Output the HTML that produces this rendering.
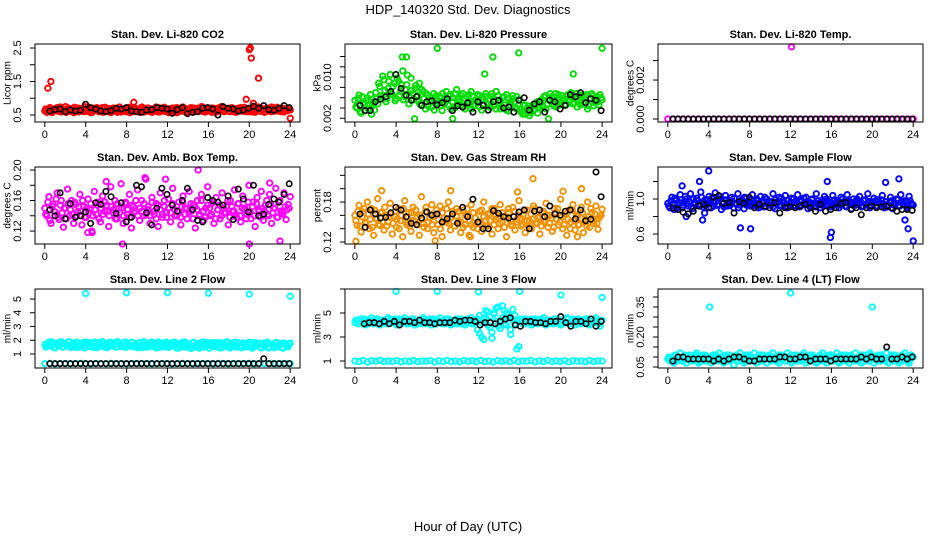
<!DOCTYPE html>
<html><head><meta charset="utf-8"><style>
html,body{margin:0;padding:0;background:#fff;}
svg{display:block;font-family:"Liberation Sans",sans-serif;}
</style></head><body>
<svg id="chart" width="936" height="540" viewBox="0 0 936 540">
<text x="468" y="14" text-anchor="middle" font-size="13">HDP_140320  Std. Dev. Diagnostics</text>
<text x="468" y="531" text-anchor="middle" font-size="13">Hour of Day (UTC)</text>
</svg>
<script>
const xTicks=[0,4,8,12,16,20,24];
// Panel 1 CO2
const co2Color=[0.62,0.58,0.66,0.7,0.6,0.64,0.72,0.68,0.59,0.63,0.75,0.66,0.61,0.69,0.57,0.65,0.71,0.62,0.68,0.6,0.66,0.74,0.63,0.58,0.7,0.65,0.61,0.67,0.72,0.6,0.64,0.69,0.57,0.66,0.62,0.7,0.63,0.59,0.68,0.65,0.61,0.73,0.66,0.6,0.69,0.64,0.58,0.67,0.71,0.62,0.65,0.6,0.68,0.63,0.74,0.59,0.66,0.7,0.61,0.64,0.57,0.69,0.65,0.62,0.72,0.6,0.67,0.63,0.7,0.58,0.66,0.64,0.71,0.61,0.68,0.62,0.75,0.6,0.65,0.69,0.63,0.58,0.7,0.66,0.61,0.73,0.64,0.6,0.67,0.62,0.7,0.65,0.59,0.68,0.63,0.72,0.61,0.66,0.69,0.6,0.64,0.71,0.58,0.67,0.62,0.7,0.65,0.6,0.68,0.63,0.74,0.61,0.66,0.62,0.7,0.64,0.59,0.67,0.63,0.65];
const co2Color2=[0.68,0.6,0.72,0.57,0.65,0.7,0.61,0.74,0.63,0.67,0.58,0.71,0.64,0.6,0.73,0.66,0.59,0.69,0.62,0.75,0.61,0.67,0.57,0.7,0.64,0.72,0.6,0.66,0.58,0.73,0.63,0.68,0.6,0.71,0.65,0.58,0.74,0.62,0.67,0.6,0.7,0.57,0.65,0.72,0.61,0.68,0.63,0.74,0.59,0.66,0.71,0.62,0.58,0.69,0.64,0.72,0.6,0.67,0.73,0.62,0.68,0.59,0.71,0.64,0.57,0.7,0.62,0.74,0.6,0.67,0.63,0.72,0.58,0.66,0.7,0.61,0.64,0.73,0.59,0.68,0.62,0.71,0.65,0.58,0.7,0.63,0.75,0.61,0.66,0.69,0.6,0.72,0.64,0.58,0.7,0.62,0.67,0.73,0.6,0.65,0.7,0.59,0.68,0.63,0.74,0.61,0.66,0.58,0.71,0.64,0.6,0.69,0.62,0.73,0.65,0.6,0.7,0.63,0.68,0.66];
const co2OutX=[0.3,0.6,8.7,19.7,20,20.1,20.2,20.4,20.9,24];
const co2OutY=[1.3,1.5,0.88,0.97,2.45,2.5,2.2,0.85,1.6,0.4];
const co2Black=[0.62,0.66,0.68,0.6,0.65,0.62,0.64,0.82,0.72,0.68,0.62,0.6,0.63,0.7,0.68,0.72,0.62,0.6,0.58,0.65,0.66,0.72,0.7,0.68,0.55,0.66,0.72,0.54,0.58,0.6,0.7,0.72,0.68,0.5,0.75,0.7,0.68,0.62,0.65,0.7,0.76,0.7,0.78,0.66,0.64,0.7,0.78,0.72];
// Panel 2 Pressure
const presColor=[0.0055,0.004,0.0065,0.003,0.005,0.0035,0.006,0.0045,0.0028,0.0052,0.007,0.0048,0.0082,0.006,0.0095,0.0052,0.0078,0.0105,0.0066,0.0088,0.0058,0.0092,0.0072,0.0112,0.0062,0.0085,0.0048,0.0098,0.0068,0.0078,0.0055,0.0088,0.0045,0.0072,0.0038,0.0065,0.0052,0.0042,0.0068,0.0058,0.0048,0.0062,0.0035,0.0056,0.0072,0.0045,0.0066,0.0052,0.004,0.0076,0.0058,0.0046,0.0068,0.0038,0.0062,0.0052,0.0072,0.0044,0.0056,0.0066,0.0042,0.0058,0.0048,0.0068,0.0036,0.0055,0.0062,0.0045,0.0072,0.005,0.0038,0.006,0.0046,0.0066,0.0034,0.0052,0.0058,0.0042,0.0062,0.0048,0.0032,0.0045,0.0028,0.0038,0.0025,0.0042,0.0035,0.0048,0.003,0.0052,0.0045,0.0062,0.0038,0.0056,0.0068,0.0048,0.006,0.0042,0.0066,0.0052,0.0058,0.0046,0.0064,0.0052,0.007,0.0048,0.006,0.0042,0.0066,0.0055,0.0048,0.0062,0.0038,0.0058,0.0068,0.0044,0.006,0.0052,0.0066,0.0056];
const presColor2=[0.0042,0.0058,0.0033,0.0062,0.0046,0.0055,0.0038,0.0066,0.0048,0.0036,0.0058,0.0088,0.0064,0.0102,0.0074,0.0058,0.0092,0.0068,0.0082,0.0054,0.0098,0.0064,0.0086,0.0056,0.0076,0.0104,0.0062,0.0074,0.0056,0.0084,0.0064,0.0048,0.0076,0.0058,0.0068,0.0044,0.0062,0.0055,0.0036,0.0064,0.0054,0.0044,0.0068,0.0048,0.0058,0.0064,0.0038,0.006,0.0068,0.0046,0.0052,0.0064,0.0042,0.0058,0.0048,0.0066,0.0038,0.0062,0.0046,0.0054,0.0064,0.0036,0.0056,0.0062,0.0048,0.0042,0.0068,0.0056,0.0038,0.0064,0.0054,0.0042,0.0062,0.0036,0.0058,0.0046,0.0064,0.0052,0.0038,0.0056,0.0038,0.0028,0.0046,0.0034,0.0044,0.003,0.0046,0.0038,0.0052,0.0042,0.0056,0.0042,0.0064,0.0048,0.0058,0.0062,0.0044,0.0068,0.0056,0.0046,0.0064,0.0054,0.0046,0.0066,0.0056,0.0062,0.005,0.0068,0.0054,0.0046,0.0064,0.0052,0.0066,0.0044,0.0058,0.0064,0.005,0.0062,0.0046,0.006];
const presOutX=[8,13.4,15.9,24,4.6,5.0,12.6,21.2,5.8,9.5,18.8];
const presOutY=[0.0156,0.0139,0.0147,0.0156,0.0139,0.0139,0.0106,0.0106,0.0019,0.0019,0.0019];
const presBlack=[0.0045,0.0035,0.0035,0.0052,0.0057,0.0062,0.0072,0.0105,0.0078,0.0065,0.0055,0.0062,0.0045,0.0052,0.0054,0.0046,0.005,0.0058,0.0035,0.0044,0.0042,0.005,0.0032,0.0052,0.0045,0.0036,0.0052,0.0055,0.004,0.0042,0.0032,0.0055,0.006,0.0036,0.0048,0.0052,0.0032,0.0055,0.0052,0.0038,0.0045,0.0066,0.0062,0.007,0.005,0.0058,0.0055,0.0035];
// Panel 3 Li-820 Temp
const tempColor=[0,0,0,0,0,0,0,0,0,0,0,0,0,0,0,0,0,0,0,0,0,0,0,0,0,0,0,0,0,0,0,0,0,0,0,0,0,0,0,0,0,0,0,0,0,0,0,0,0];
const tempOutX=[12.1];
const tempOutY=[0.0037];
const tempBlack=[0,0,0,0,0,0,0,0,0,0,0,0,0,0,0,0,0,0,0,0,0,0,0,0,0,0,0,0,0,0,0,0,0,0,0,0,0,0,0,0,0,0,0,0,0,0,0,0];
// Panel 4 Amb Box Temp
const boxColor=[0.15,0.14,0.165,0.13,0.155,0.145,0.17,0.135,0.16,0.125,0.15,0.175,0.14,0.16,0.13,0.155,0.145,0.168,0.128,0.152,0.138,0.162,0.148,0.118,0.172,0.142,0.158,0.132,0.166,0.146,0.154,0.126,0.178,0.144,0.16,0.136,0.15,0.182,0.13,0.156,0.142,0.168,0.124,0.152,0.146,0.174,0.134,0.16,0.14,0.188,0.148,0.13,0.164,0.142,0.156,0.126,0.17,0.138,0.152,0.144,0.162,0.132,0.176,0.148,0.14,0.158,0.128,0.166,0.15,0.136,0.172,0.146,0.154,0.124,0.16,0.142,0.168,0.134,0.15,0.178,0.14,0.156,0.13,0.164,0.148,0.136,0.17,0.144,0.152,0.128,0.16,0.146,0.174,0.138,0.156,0.132,0.166,0.15,0.142,0.18,0.136,0.158,0.126,0.164,0.146,0.172,0.134,0.154,0.142,0.168,0.13,0.15,0.176,0.138,0.16,0.144,0.17,0.135,0.155,0.165];
const boxColor2=[0.142,0.158,0.134,0.152,0.146,0.162,0.138,0.154,0.144,0.15,0.136,0.156,0.148,0.142,0.158,0.14,0.152,0.146,0.16,0.138,0.15,0.144,0.156,0.14,0.148,0.154,0.136,0.15,0.142,0.158,0.146,0.14,0.152,0.148,0.136,0.156,0.144,0.15,0.14,0.158,0.148,0.138,0.154,0.144,0.16,0.14,0.15,0.146,0.156,0.142,0.152,0.14,0.158,0.146,0.136,0.154,0.148,0.142,0.16,0.138,0.15,0.144,0.156,0.14,0.152,0.146,0.138,0.158,0.142,0.15,0.144,0.156,0.136,0.152,0.148,0.14,0.16,0.146,0.138,0.154,0.15,0.142,0.158,0.136,0.148,0.154,0.14,0.15,0.144,0.16,0.138,0.152,0.146,0.142,0.156,0.14,0.15,0.148,0.136,0.158,0.144,0.152,0.14,0.156,0.148,0.138,0.15,0.146,0.16,0.14,0.154,0.144,0.15,0.138,0.158,0.146,0.142,0.152,0.148,0.15];
const boxOutX=[7.6,15,20,23,9.8,11.8,6,22,4.2,4.6];
const boxOutY=[0.103,0.2,0.103,0.107,0.19,0.188,0.185,0.183,0.118,0.12];
const boxBlack=[0.148,0.14,0.17,0.136,0.156,0.138,0.14,0.145,0.13,0.157,0.155,0.172,0.165,0.143,0.157,0.132,0.138,0.18,0.178,0.144,0.128,0.15,0.176,0.168,0.154,0.146,0.16,0.176,0.148,0.134,0.132,0.164,0.16,0.158,0.154,0.166,0.135,0.175,0.162,0.145,0.18,0.14,0.142,0.155,0.162,0.158,0.168,0.182];
// Panel 5 Gas Stream RH
const rhColor=[0.16,0.145,0.175,0.135,0.165,0.15,0.18,0.14,0.17,0.13,0.155,0.185,0.145,0.165,0.138,0.16,0.15,0.178,0.132,0.158,0.142,0.17,0.152,0.128,0.182,0.146,0.164,0.136,0.172,0.15,0.158,0.13,0.188,0.148,0.166,0.14,0.156,0.176,0.134,0.162,0.146,0.174,0.128,0.156,0.15,0.18,0.138,0.166,0.144,0.17,0.152,0.134,0.168,0.146,0.16,0.13,0.176,0.142,0.156,0.148,0.166,0.136,0.18,0.152,0.144,0.162,0.132,0.17,0.154,0.14,0.176,0.15,0.158,0.128,0.164,0.146,0.172,0.138,0.154,0.182,0.144,0.16,0.134,0.168,0.152,0.14,0.174,0.148,0.156,0.132,0.164,0.15,0.178,0.142,0.16,0.136,0.17,0.154,0.146,0.184,0.14,0.162,0.13,0.168,0.15,0.176,0.138,0.158,0.146,0.172,0.134,0.154,0.18,0.142,0.164,0.148,0.174,0.139,0.159,0.169];
const rhColor2=[0.152,0.166,0.144,0.158,0.17,0.148,0.162,0.154,0.142,0.168,0.156,0.146,0.164,0.15,0.172,0.144,0.158,0.162,0.148,0.166,0.154,0.14,0.16,0.17,0.15,0.156,0.144,0.164,0.152,0.168,0.146,0.16,0.154,0.142,0.172,0.15,0.162,0.146,0.158,0.168,0.154,0.14,0.164,0.15,0.17,0.148,0.156,0.162,0.144,0.158,0.166,0.15,0.142,0.16,0.17,0.152,0.146,0.164,0.156,0.14,0.15,0.168,0.158,0.144,0.162,0.152,0.17,0.146,0.16,0.156,0.148,0.164,0.142,0.158,0.17,0.152,0.144,0.166,0.15,0.16,0.156,0.146,0.168,0.152,0.142,0.162,0.154,0.17,0.148,0.158,0.144,0.166,0.152,0.16,0.148,0.156,0.142,0.164,0.17,0.15,0.158,0.146,0.162,0.154,0.14,0.168,0.152,0.16,0.146,0.156,0.164,0.15,0.144,0.158,0.17,0.152,0.162,0.148,0.156,0.16];
const rhOutX=[0.1,2.6,9.3,17.3,20.2,22,15.8,21.6,11.2,7.8];
const rhOutY=[0.121,0.197,0.197,0.215,0.196,0.2,0.195,0.128,0.128,0.122];
const rhBlack=[0.162,0.142,0.168,0.162,0.156,0.157,0.164,0.172,0.168,0.158,0.148,0.146,0.156,0.165,0.16,0.162,0.15,0.155,0.162,0.148,0.172,0.158,0.184,0.15,0.14,0.14,0.167,0.163,0.158,0.156,0.158,0.165,0.168,0.14,0.166,0.168,0.158,0.174,0.162,0.16,0.166,0.168,0.155,0.168,0.152,0.154,0.225,0.188];
// Panel 6 Sample Flow
const sampColor=[0.95,0.9,1.02,0.88,0.98,0.93,1.05,0.9,0.97,1.0,0.92,1.06,0.89,0.96,1.01,0.94,1.08,0.91,0.99,0.95,1.03,0.9,0.97,1.07,0.93,1.0,0.88,0.96,1.04,0.92,0.98,1.02,0.9,0.95,1.06,0.93,0.99,0.89,1.01,0.96,0.92,1.05,0.94,0.98,0.9,1.03,0.95,0.91,1.0,0.97,0.93,1.06,0.89,0.96,1.02,0.92,0.99,1.04,0.9,0.95,1.01,0.93,0.97,1.05,0.91,0.98,0.94,1.02,0.89,0.96,1.0,0.92,1.06,0.95,0.9,0.99,1.03,0.93,0.97,0.91,1.04,0.94,0.98,0.9,1.02,0.95,0.92,1.05,0.96,0.89,1.0,0.93,0.97,1.03,0.91,0.98,0.94,1.06,0.9,0.96,1.01,0.92,0.99,0.95,1.04,0.9,0.97,0.93,1.02,0.89,0.96,1.0,0.92,1.05,0.94,0.98,0.9,1.03,0.95,0.93];
const sampColor2=[0.92,0.98,0.94,1.01,0.9,0.96,0.99,0.93,1.03,0.95,0.97,0.91,1.0,0.94,0.98,0.92,1.02,0.96,0.93,0.99,0.95,1.01,0.92,0.97,0.94,1.03,0.96,0.91,0.99,0.95,0.93,0.97,1.01,0.94,0.9,0.98,0.95,1.02,0.93,0.97,0.99,0.92,0.96,1.0,0.94,0.91,0.98,1.02,0.95,0.93,0.97,0.91,0.99,0.95,0.93,1.01,0.96,0.92,0.98,0.94,0.96,1.0,0.92,0.95,0.98,0.93,1.01,0.95,0.97,0.92,0.99,0.95,0.91,0.98,0.96,0.93,0.97,1.0,0.94,0.96,0.92,0.99,0.95,0.97,0.93,1.0,0.96,0.91,0.98,0.95,0.93,0.97,1.0,0.94,0.96,0.92,0.99,0.95,0.97,0.93,0.96,0.98,0.92,0.95,0.99,0.94,0.97,0.91,0.96,0.98,0.93,0.95,0.99,0.92,0.97,0.94,0.96,0.92,0.98,0.94];
const sampOutX=[4,1.8,3.4,7.1,8.1,16,15.9,23.2,23.5,24,1.4,15.6,22.6,21.3,3.1,3.6];
const sampOutY=[1.32,0.8,0.76,0.67,0.66,0.62,0.56,0.76,0.66,0.52,1.15,1.2,1.23,1.19,1.2,0.84];
const sampBlack=[0.9,0.88,0.85,0.83,0.86,0.92,0.94,0.9,1.02,1.04,0.95,0.96,0.84,0.97,0.95,1.02,0.9,0.94,0.92,0.9,0.96,0.84,0.9,0.91,0.9,0.92,0.94,0.9,0.86,0.94,0.86,0.88,0.9,0.95,0.96,0.88,0.9,0.82,0.9,0.92,0.9,0.91,0.92,0.9,0.86,0.88,0.88,0.87];
// Panel 7 Line 2 Flow
const l2Color=[1.7,1.55,1.85,1.6,1.75,1.45,1.8,1.65,1.9,1.5,1.72,1.58,1.88,1.62,1.78,1.48,1.82,1.66,1.52,1.86,1.7,1.56,1.84,1.6,1.76,1.46,1.8,1.64,1.9,1.52,1.74,1.58,1.86,1.62,1.78,1.5,1.82,1.66,1.54,1.88,1.68,1.56,1.84,1.6,1.76,1.46,1.8,1.64,1.9,1.5,1.72,1.58,1.86,1.62,1.78,1.48,1.82,1.66,1.52,1.86,1.7,1.56,1.84,1.6,1.76,1.44,1.8,1.64,1.88,1.5,1.72,1.58,1.86,1.62,1.78,1.42,1.82,1.66,1.52,1.84,1.68,1.56,1.84,1.6,1.76,1.44,1.8,1.64,1.88,1.5,1.72,1.58,1.86,1.62,1.78,1.46,1.8,1.66,1.52,1.86,1.7,1.56,1.84,1.6,1.76,1.44,1.8,1.64,1.86,1.5,1.72,1.58,1.84,1.62,1.78,1.46,1.8,1.66,1.52,1.8];
const l2Color2=[1.5,1.8,1.62,1.88,1.46,1.7,1.58,1.84,1.52,1.76,1.64,1.9,1.48,1.72,1.6,1.86,1.5,1.78,1.66,1.44,1.82,1.56,1.74,1.48,1.88,1.62,1.52,1.8,1.58,1.7,1.46,1.84,1.6,1.76,1.5,1.9,1.64,1.54,1.8,1.48,1.74,1.62,1.86,1.52,1.7,1.58,1.84,1.46,1.78,1.64,1.5,1.82,1.56,1.72,1.44,1.88,1.6,1.52,1.8,1.66,1.48,1.76,1.58,1.86,1.42,1.7,1.62,1.84,1.5,1.76,1.56,1.4,1.82,1.6,1.48,1.74,1.56,1.88,1.5,1.7,1.42,1.8,1.6,1.52,1.84,1.66,1.46,1.74,1.58,1.86,1.44,1.7,1.62,1.5,1.82,1.58,1.46,1.76,1.64,1.52,1.84,1.42,1.7,1.58,1.8,1.48,1.66,1.52,1.78,1.44,1.72,1.6,1.46,1.84,1.56,1.7,1.42,1.76,1.62,1.74];
const l2Low=[0.3,0.32,0.28,0.3,0.31,0.29,0.3,0.32,0.3,0.28,0.31,0.3,0.29,0.32,0.3,0.3,0.28,0.31,0.3,0.32,0.3,0.29,0.3,0.31,0.3,0.28,0.3,0.32,0.3,0.29,0.31,0.3,0.3,0.28,0.32,0.3,0.29,0.31,0.3,0.3,0.32,0.28,0.3,0.31,0.3,0.29,0.3,0.32,0.3];
const l2OutX=[4,8,12,16,20,24];
const l2OutY=[5.4,5.45,5.45,5.42,5.35,5.2];
const l2Black=[0.3,0.3,0.3,0.3,0.3,0.3,0.3,0.3,0.3,0.3,0.3,0.3,0.3,0.3,0.3,0.3,0.3,0.3,0.3,0.3,0.3,0.3,0.3,0.3,0.3,0.3,0.3,0.3,0.3,0.3,0.3,0.3,0.3,0.3,0.3,0.3,0.3,0.3,0.3,0.3,0.3,0.3,0.65,0.3,0.3,0.3,0.3,0.3];
// Panel 8 Line 3 Flow
const l3Color=[4.2,4.4,4.1,4.5,4.3,4.0,4.4,4.2,4.6,4.1,4.3,4.5,4.0,4.2,4.4,4.1,4.6,4.3,4.2,4.5,4.0,4.4,4.2,4.3,4.6,4.1,4.4,4.2,4.5,4.0,4.3,4.4,4.1,4.6,4.2,4.3,4.5,4.0,4.4,4.2,4.3,4.6,4.1,4.4,4.2,4.5,4.0,4.3,4.4,4.1,4.2,4.5,4.3,4.0,4.4,4.2,4.6,4.1,4.3,4.5,3.3,4.2,2.8,4.6,5.1,3.8,2.9,4.9,5.4,3.9,4.4,5.6,4.1,5.0,4.6,3.2,5.3,4.8,2.0,2.2,4.3,4.1,4.5,4.2,4.4,4.0,4.3,4.5,4.1,4.4,4.2,4.6,4.0,4.3,4.4,4.1,4.5,4.2,4.3,4.0,4.4,4.2,4.6,4.1,4.3,4.5,4.0,4.2,4.4,4.1,4.3,4.5,4.2,4.0,4.4,4.3,4.6,4.1,3.9,4.4];
const l3Color2=[4.4,4.1,4.3,4.2,4.5,4.2,4.1,4.4,4.3,4.2,4.5,4.1,4.3,4.4,4.2,4.5,4.1,4.3,4.4,4.2,4.3,4.5,4.1,4.4,4.2,4.3,4.1,4.5,4.2,4.4,4.1,4.2,4.5,4.3,4.1,4.4,4.2,4.3,4.5,4.1,4.4,4.2,4.3,4.1,4.5,4.2,4.4,4.1,4.3,4.5,4.3,4.1,4.4,4.2,4.5,4.3,4.1,4.4,4.2,3.6,4.8,3.0,4.5,5.2,4.0,4.7,3.4,5.0,4.3,5.5,3.7,4.6,5.2,4.0,4.9,3.6,4.5,4.1,4.4,4.2,4.5,4.3,4.1,4.4,4.2,4.5,4.1,4.3,4.4,4.2,4.5,4.1,4.3,4.4,4.2,4.3,4.1,4.5,4.2,4.4,4.1,4.3,4.2,4.5,4.1,4.4,4.3,4.2,4.5,4.1,4.4,4.2,4.3,4.5,4.1,4.2,4.4,4.3,4.1,4.3];
const l3Low=[1.0,0.95,1.05,0.92,1.02,0.98,1.06,0.94,1.0,0.97,1.04,0.93,1.01,0.96,1.05,0.94,1.0,0.98,1.03,0.92,1.02,0.97,1.06,0.95,1.0,0.93,1.04,0.98,1.01,0.94,1.05,0.96,1.0,0.92,1.03,0.97,1.02,0.95,1.06,0.94,1.0,0.98,1.04,0.93,1.01,0.96,1.05,0.95,1.0,0.97,1.03,0.92,1.02,0.98,1.0,0.94,1.04,0.96,1.01,1.0];
const l3OutX=[4,8,12,16,20,24];
const l3OutY=[6.8,6.8,6.75,6.8,6.5,6.3];
const l3Black=[4.1,4.2,4.2,4.1,4.3,4.1,4.3,4.0,4.3,4.3,4.2,4.4,4.2,4.2,4.1,4.2,4.2,4.2,4.4,4.3,4.4,4.4,4.3,4.0,4.2,4.2,4.1,4.3,4.5,4.6,4.0,3.9,4.3,4.3,4.2,4.2,4.1,4.3,4.3,4.7,4.2,3.9,4.3,4.3,4.1,4.5,3.9,4.3];
// Panel 9 Line 4 (LT) Flow
const l4Color=[0.09,0.08,0.1,0.07,0.11,0.09,0.12,0.08,0.1,0.07,0.09,0.11,0.08,0.1,0.12,0.07,0.09,0.11,0.08,0.1,0.09,0.07,0.11,0.1,0.08,0.12,0.09,0.07,0.1,0.08,0.11,0.09,0.06,0.1,0.08,0.12,0.09,0.07,0.11,0.1,0.08,0.09,0.12,0.07,0.1,0.08,0.11,0.09,0.07,0.1,0.09,0.12,0.08,0.1,0.07,0.11,0.09,0.08,0.12,0.1,0.07,0.09,0.11,0.08,0.1,0.09,0.12,0.07,0.1,0.08,0.11,0.09,0.07,0.1,0.08,0.12,0.09,0.07,0.11,0.1,0.08,0.09,0.12,0.07,0.1,0.08,0.11,0.09,0.07,0.1,0.09,0.12,0.08,0.1,0.07,0.11,0.09,0.08,0.12,0.1,0.07,0.09,0.11,0.08,0.1,0.09,0.12,0.07,0.1,0.08,0.11,0.09,0.07,0.1,0.08,0.12,0.09,0.07,0.11,0.1];
const l4Color2=[0.1,0.08,0.09,0.11,0.08,0.1,0.09,0.08,0.11,0.09,0.1,0.08,0.09,0.11,0.1,0.08,0.1,0.09,0.11,0.08,0.09,0.1,0.08,0.11,0.09,0.1,0.08,0.09,0.11,0.1,0.08,0.09,0.1,0.11,0.08,0.09,0.1,0.08,0.09,0.11,0.1,0.08,0.09,0.1,0.11,0.09,0.08,0.1,0.09,0.11,0.08,0.1,0.09,0.08,0.11,0.1,0.09,0.08,0.1,0.09,0.11,0.08,0.1,0.09,0.08,0.11,0.09,0.1,0.08,0.11,0.09,0.1,0.08,0.09,0.11,0.1,0.08,0.09,0.1,0.11,0.08,0.09,0.1,0.08,0.11,0.09,0.1,0.08,0.09,0.11,0.1,0.08,0.09,0.1,0.11,0.08,0.09,0.1,0.08,0.11,0.09,0.1,0.08,0.09,0.11,0.1,0.08,0.09,0.1,0.11,0.08,0.09,0.1,0.08,0.11,0.09,0.1,0.08,0.09,0.1];
const l4OutX=[4.1,12,20];
const l4OutY=[0.35,0.42,0.35];
const l4Black=[0.08,0.1,0.1,0.09,0.09,0.09,0.09,0.09,0.08,0.09,0.08,0.09,0.1,0.1,0.09,0.08,0.08,0.09,0.09,0.09,0.09,0.1,0.1,0.09,0.09,0.1,0.1,0.08,0.09,0.09,0.09,0.08,0.09,0.09,0.09,0.09,0.09,0.1,0.09,0.1,0.09,0.09,0.15,0.09,0.09,0.1,0.09,0.1];

const svg=document.getElementById('chart');
const NS='http://www.w3.org/2000/svg';
const colL=[35,345,658],colR=[300,612,923];
const rowT=[44,167,289],rowB=[122,244,368];
function mk(tag,attrs,parent){const e=document.createElementNS(NS,tag);for(const k in attrs)e.setAttribute(k,attrs[k]);(parent||svg).appendChild(e);return e;}
function evenX(n,a,b){const r=[];for(let i=0;i<n;i++)r.push(a+(b-a)*i/(n-1));return r;}

function panel(c,r,name,title,ylab,ylim,yt,yl,series){
  const L=colL[c],R=colR[c],T=rowT[r],B=rowB[r];
  const g=mk('g',{});
  
  
  const xs=h=>L+(R-L)*(h+0.96)/25.92;
  const ys=v=>B-(v-ylim[0])/(ylim[1]-ylim[0])*(B-T);
  const t=mk('text',{x:(L+R)/2,y:T-6,'text-anchor':'middle','font-size':11,'font-weight':'bold'},g);
  t.textContent=title;
  
  
  const yt2=mk('text',{transform:`translate(${L-27},${(T+B)/2}) rotate(-90)`,'text-anchor':'middle','dominant-baseline':'central','font-size':10},g);
  yt2.textContent=ylab;
  
  
  xTicks.forEach(h=>{
    const x=xs(h);
    mk('line',{x1:x,x2:x,y1:B,y2:B+5,stroke:'#000'},g);
    const tl=mk('text',{x:x,y:B+16,'text-anchor':'middle','font-size':11},g);
    tl.textContent=h;
    
    
  });
  yt.forEach(v=>{
    const y=ys(v);
    mk('line',{x1:L-5,x2:L,y1:y,y2:y,stroke:'#000'},g);
  });
  yl.forEach(s=>{
    const y=ys(parseFloat(s));
    const tl=mk('text',{transform:`translate(${L-14},${y}) rotate(-90)`,'text-anchor':'middle','font-size':11},g);
    tl.textContent=s;
    
    
  });
  series.forEach(s=>{
    const sg=mk('g',{fill:'none',stroke:s.color,'stroke-width':s.color==='#000'?1.6:1.9},g);
    
    
    const hx=s.x||evenX(s.y.length,s.a!==undefined?s.a:0,s.b!==undefined?s.b:24);
    s.y.forEach((v,i)=>{
      const p=mk('circle',{cx:xs(hx[i]).toFixed(1),cy:ys(v).toFixed(1),r:2.7},sg);
      
      
    });
  });
  const bx=mk('rect',{x:L,y:T,width:R-L,height:B-T,fill:'none',stroke:'#000'},g);
  
  
}
const K='#000';
panel(0,0,'panel-co2','Stan. Dev. Li-820 CO2','Licor ppm',[0.291,2.62],[0.5,1,1.5,2,2.5],['0.5','1.5','2.5'],
 [{name:'co2-series',y:co2Color,color:'#ff0000'},{name:'co2-series-b',y:co2Color2,color:'#ff0000',a:0.1,b:23.9},{name:'co2-outliers',x:co2OutX,y:co2OutY,color:'#ff0000'},{name:'co2-hourly',y:co2Black,color:K,a:0.5,b:23.9}]);
panel(1,0,'panel-pressure','Stan. Dev. Li-820 Pressure','kPa',[0.00128,0.01643],[0.002,0.004,0.006,0.008,0.010,0.012,0.014],['0.002','0.010'],
 [{name:'pressure-series',y:presColor,color:'#00dd00'},{name:'pressure-series-b',y:presColor2,color:'#00dd00',a:0.1,b:23.9},{name:'pressure-outliers',x:presOutX,y:presOutY,color:'#00dd00'},{name:'pressure-hourly',y:presBlack,color:K,a:0.5,b:23.9}]);
panel(2,0,'panel-li820-temp','Stan. Dev. Li-820 Temp.','degrees C',[-0.000154,0.00385],[0,0.001,0.002,0.003],['0.000','0.002'],
 [{name:'temp-series',y:tempColor,color:'#ff00ff'},{name:'temp-outliers',x:tempOutX,y:tempOutY,color:'#ff00ff'},{name:'temp-hourly',y:tempBlack,color:K,a:0.5,b:23.9}]);
panel(0,1,'panel-amb-box-temp','Stan. Dev. Amb. Box Temp.','degrees C',[0.103,0.204],[0.12,0.14,0.16,0.18,0.2],['0.12','0.16','0.20'],
 [{name:'box-series',y:boxColor,color:'#ff00ff'},{name:'box-series-b',y:boxColor2,color:'#ff00ff',a:0.1,b:23.9},{name:'box-outliers',x:boxOutX,y:boxOutY,color:'#ff00ff'},{name:'box-hourly',y:boxBlack,color:K,a:0.5,b:23.9}]);
panel(1,1,'panel-gas-rh','Stan. Dev. Gas Stream RH','percent',[0.117,0.2325],[0.12,0.14,0.16,0.18,0.2,0.22],['0.12','0.18'],
 [{name:'rh-series',y:rhColor,color:'#f29000'},{name:'rh-series-b',y:rhColor2,color:'#f29000',a:0.1,b:23.9},{name:'rh-outliers',x:rhOutX,y:rhOutY,color:'#f29000'},{name:'rh-hourly',y:rhBlack,color:K,a:0.5,b:23.9}]);
panel(2,1,'panel-sample-flow','Stan. Dev. Sample Flow','ml/min',[0.486,1.366],[0.6,0.8,1.0,1.2],['0.6','1.0'],
 [{name:'sample-series',y:sampColor,color:'#0000ff'},{name:'sample-series-b',y:sampColor2,color:'#0000ff',a:0.1,b:23.9},{name:'sample-outliers',x:sampOutX,y:sampOutY,color:'#0000ff'},{name:'sample-hourly',y:sampBlack,color:K,a:0.5,b:23.9}]);
panel(0,2,'panel-line2-flow','Stan. Dev. Line 2 Flow','ml/min',[-0.018,5.73],[1,2,3,4,5],['1','2','3','4','5'],
 [{name:'line2-series',y:l2Color,color:'#00ffff'},{name:'line2-series-b',y:l2Color2,color:'#00ffff',a:0.1,b:23.9},{name:'line2-low',y:l2Low,color:'#00ffff'},{name:'line2-outliers',x:l2OutX,y:l2OutY,color:'#00ffff'},{name:'line2-hourly',y:l2Black,color:K,a:0.5,b:23.9}]);
panel(1,2,'panel-line3-flow','Stan. Dev. Line 3 Flow','ml/min',[0.417,7],[1,3,5,7],['1','3','5'],
 [{name:'line3-series',y:l3Color,color:'#00ffff'},{name:'line3-series-b',y:l3Color2,color:'#00ffff',a:0.1,b:23.9},{name:'line3-low',y:l3Low,color:'#00ffff'},{name:'line3-outliers',x:l3OutX,y:l3OutY,color:'#00ffff'},{name:'line3-hourly',y:l3Black,color:K,a:0.9,b:23.9}]);
panel(2,2,'panel-line4-flow','Stan. Dev. Line 4 (LT) Flow','ml/min',[0.045,0.44],[0.05,0.1,0.15,0.2,0.25,0.3,0.35,0.4],['0.05','0.20','0.35'],
 [{name:'line4-series',y:l4Color,color:'#00ffff'},{name:'line4-series-b',y:l4Color2,color:'#00ffff',a:0.1,b:23.9},{name:'line4-outliers',x:l4OutX,y:l4OutY,color:'#00ffff'},{name:'line4-hourly',y:l4Black,color:K,a:0.5,b:23.9}]);
</script>
</body></html>
